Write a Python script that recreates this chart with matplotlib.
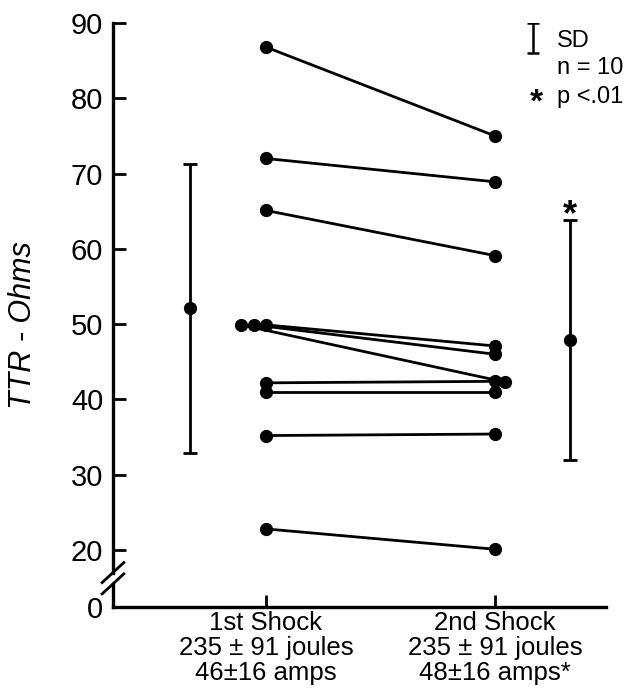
import numpy as np
import matplotlib.pyplot as plt

plt.rcParams['font.family'] = ['Liberation Sans', 'DejaVu Sans']

# TTR values (ohms) for the 10 patients
first_shock = [86.8, 72.0, 65.1, 49.9, 49.9, 49.9, 42.2, 41.0, 35.2, 22.8]
second_shock = [75.0, 68.9, 59.1, 47.1, 46.0, 42.3, 42.4, 41.0, 35.4, 20.1]
# small side shifts so overlapping dots stay visible
shift_first = [0, 0, 0, 0, -0.052, -0.109, 0, 0, 0, 0]
shift_second = [0, 0, 0, 0, 0, 0.044, 0, 0, 0, 0]

mean_first, sd_first = 52.1, 19.2
mean_second, sd_second = 47.9, 15.9

tick_labels = ['1st Shock\n235 ± 91 joules\n46±16 amps',
               '2nd Shock\n235 ± 91 joules\n48±16 amps*']
y_ticks = [20, 30, 40, 50, 60, 70, 80, 90]
y_floor = 12.43  # where the broken axis shows "0"

fig = plt.figure(figsize=(6.39, 6.96), dpi=100)
ax = fig.add_axes([0.1768, 0.1279, 0.7715, 0.8391])

for i in range(len(first_shock)):
    ax.plot([1 + shift_first[i], 2 + shift_second[i]],
            [first_shock[i], second_shock[i]],
            color='black', lw=2.0, marker='o', ms=8.5, solid_capstyle='round')

ax.errorbar([0.668], [mean_first], yerr=[sd_first], fmt='o', color='black',
            ms=8.5, lw=2.0, capsize=5, capthick=2.0)
ax.errorbar([2.327], [mean_second], yerr=[sd_second], fmt='o', color='black',
            ms=8.5, lw=2.0, capsize=5, capthick=2.0)
ax.text(2.327, mean_second + sd_second + 0.6, '*', ha='center', va='center',
        fontsize=26, fontweight='bold')

# legend block top right
ax.errorbar([2.166], [88.0], yerr=[2.0], fmt='none', color='black',
            lw=1.8, capsize=4.5, capthick=1.8)
ax.text(2.27, 87.6, 'SD', fontsize=17, va='center', ha='left')
ax.text(2.27, 84.0, 'n = 10', fontsize=17, va='center', ha='left')
ax.text(2.27, 80.2, 'p <.01', fontsize=17, va='center', ha='left')
ax.text(2.18, 79.4, '*', fontsize=24, va='center', ha='center', fontweight='bold')

ax.set_xlim(0.332, 2.485)
ax.set_ylim(y_floor, 90)
ax.set_xticks([1, 2], labels=tick_labels, fontsize=18.5, linespacing=1.05)
ax.set_yticks([y_floor] + y_ticks, labels=['0'] + [str(t) for t in y_ticks])
ax.tick_params(axis='y', direction='in', length=9, width=2.0, labelsize=21, pad=7)
ax.tick_params(axis='x', direction='in', length=9, width=2.0, pad=3)

for side in ['top', 'right', 'left']:
    ax.spines[side].set_visible(False)
ax.spines['bottom'].set_linewidth(2.4)

# left spine with a break between 0 and 20
tr = ax.get_yaxis_transform()
ax.plot([0, 0], [y_floor, 15.5], transform=tr, color='black', lw=2.4, clip_on=False)
ax.plot([0, 0], [17.0, 90], transform=tr, color='black', lw=2.4, clip_on=False)
for yc in [17.0, 15.5]:
    ax.plot([-0.022, 0.022], [yc - 1.33, yc + 1.33], transform=tr,
            color='black', lw=2.0, clip_on=False)

ax.set_ylabel('TTR - Ohms', fontsize=22, style='italic')
ax.yaxis.set_label_coords(-0.152, 0.483)

fig.savefig('out.png', dpi=100)
